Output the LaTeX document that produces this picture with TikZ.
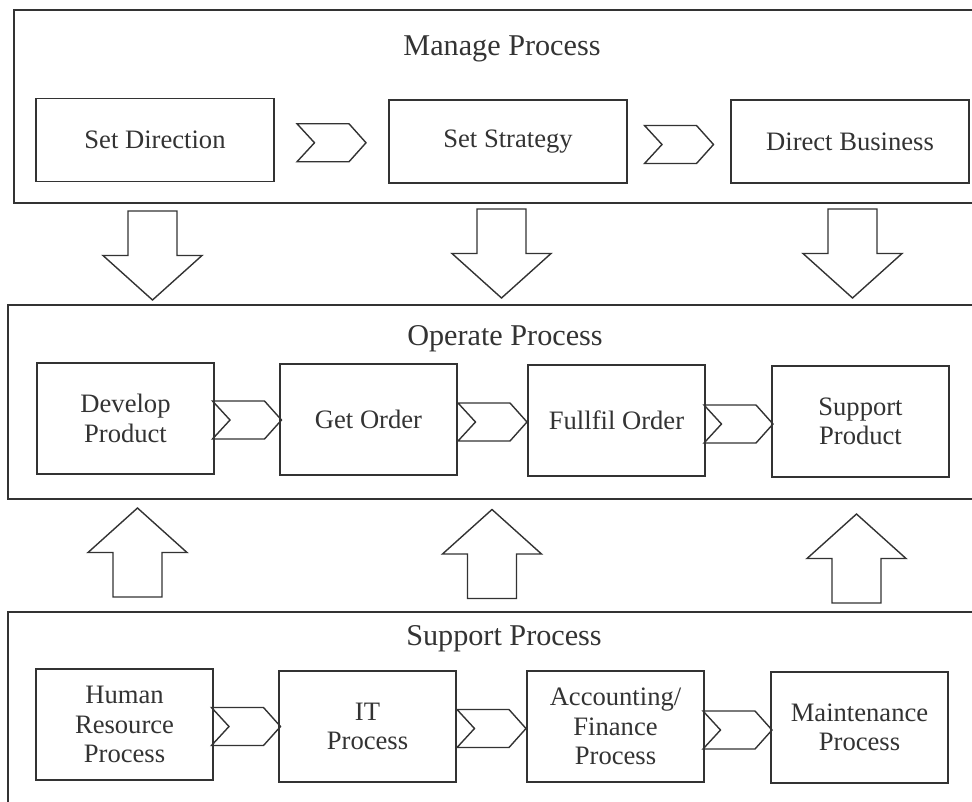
\documentclass[tikz,border=0pt]{standalone}
\usepackage{fontspec}
\setmainfont{Liberation Serif}
\usetikzlibrary{calc}
\definecolor{ink}{HTML}{333333}
\tikzset{
  x=1pt, y=-1pt,
  outline/.style={draw=ink, line width=1.4pt},
  stepbox/.style={outline, fill=white, minimum width=177pt, minimum height=111pt,
    inner sep=0pt, align=center, text=ink,
    font=\fontsize{26.6pt}{29.5pt}\selectfont},
  widebox/.style={stepbox, minimum width=238pt, minimum height=83pt},
  lanetitle/.style={anchor=base, text=ink, inner sep=0pt,
    font=\fontsize{30.2pt}{34pt}\selectfont},
  chevron/.pic={\draw[outline, line join=miter]
    (-34.5,-19) -- (17.5,-19) -- (34.5,0) -- (17.5,19) -- (-34.5,19) -- (-17,0) -- cycle;},
  blockdown/.pic={\draw[outline, line join=miter]
    (-24.5,-44.5) -- (24.5,-44.5) -- (24.5,0) -- (49.5,0) -- (0,44.5)
    -- (-49.5,0) -- (-24.5,0) -- cycle;},
  blockup/.pic={\draw[outline, line join=miter]
    (-24.5,44.5) -- (24.5,44.5) -- (24.5,0) -- (49.5,0) -- (0,-44.5)
    -- (-49.5,0) -- (-24.5,0) -- cycle;},
}
\begin{document}
\begin{tikzpicture}
\useasboundingbox (0,0) rectangle (972,801);
\clip (0,0) rectangle (972,801);

% three process lanes, open on the right
\draw[outline] (990,10) -- (14,10) -- (14,203) -- (990,203);
\draw[outline] (990,305) -- (8,305) -- (8,499) -- (990,499);
\draw[outline] (990,612) -- (8,612) -- (8,820);

\node[lanetitle] (manage)  at (502,55)  {Manage Process};
\node[lanetitle] (operate) at (505,345) {Operate Process};
\node[lanetitle] (support) at (504,645) {Support Process};

% manage lane
\node[widebox] (dir)   at (155,140)   {Set Direction};
\node[widebox] (strat) at (508,141.5) {Set Strategy};
\node[widebox] (biz)   at (850,141.5) {Direct Business};

% operate lane
\node[stepbox] (dev)  at (125.5,418.5) {Develop\\Product};
\node[stepbox] (get)  at (368.5,419.5) {Get Order};
\node[stepbox] (ful)  at (616.5,420.5) {Fullfil Order};
\node[stepbox] (sup)  at (860.5,421.5) {Support\\Product};

% support lane
\node[stepbox] (hr)   at (124.5,724.5) {Human\\Resource\\Process};
\node[stepbox] (it)   at (367.5,726.5) {IT\\Process};
\node[stepbox] (acc)  at (615.5,726.5) {Accounting/\\Finance\\Process};
\node[stepbox] (mnt)  at (859.5,727.5) {Maintenance\\Process};

% flow chevrons between steps
\pic at ($(dir.east)!0.5!(strat.west)+(0,2)$) {chevron};
\pic at ($(strat.east)!0.5!(biz.west)+(0,3)$) {chevron};
\pic at ($(dev.east)!0.5!(get.west)+(0,1)$) {chevron};
\pic at ($(get.east)!0.5!(ful.west)+(0,2)$) {chevron};
\pic at ($(ful.east)!0.5!(sup.west)+(0,3)$) {chevron};
\pic at ($(hr.east)!0.5!(it.west)+(0,1)$) {chevron};
\pic at ($(it.east)!0.5!(acc.west)+(0,2)$) {chevron};
\pic at ($(acc.east)!0.5!(mnt.west)+(0,3)$) {chevron};

% block arrows between lanes
\pic at (152.5,255.5) {blockdown};
\pic at (501.5,253.5) {blockdown};
\pic at (852.5,253.5) {blockdown};
\pic at (137.5,552.5) {blockup};
\pic at (492,554)     {blockup};
\pic at (856.5,558.5) {blockup};
\end{tikzpicture}
\end{document}
